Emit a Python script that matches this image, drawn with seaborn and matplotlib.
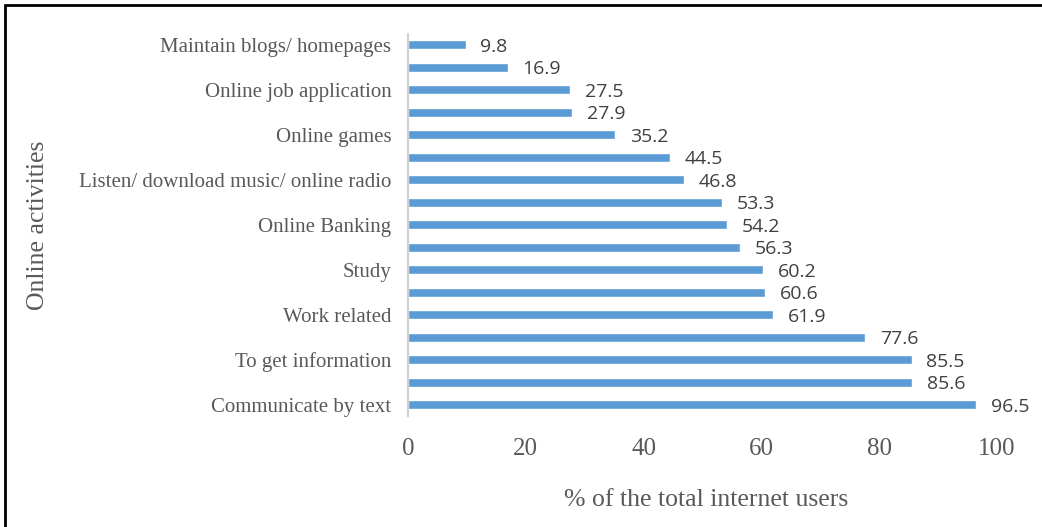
import matplotlib
matplotlib.use("Agg")
import matplotlib.pyplot as plt
import seaborn as sns
import pandas as pd
from matplotlib.patches import Rectangle

# Online activities, shown top to bottom; only every other one carries a label
activity_labels = [
    "Maintain blogs/ homepages", "",
    "Online job application", "",
    "Online games", "",
    "Listen/ download music/ online radio", "",
    "Online Banking", "",
    "Study", "",
    "Work related", "",
    "To get information", "",
    "Communicate by text",
]
share_of_users = [9.8, 16.9, 27.5, 27.9, 35.2, 44.5, 46.8, 53.3, 54.2,
                  56.3, 60.2, 60.6, 61.9, 77.6, 85.5, 85.6, 96.5]
x_ticks = [0, 20, 40, 60, 80, 100]

df = pd.DataFrame({
    "key": [f"a{i}" for i in range(len(share_of_users))],
    "value": share_of_users,
})

sns.set_theme(style="white")
plt.rcParams["font.family"] = ["Liberation Serif", "DejaVu Serif"]

fig = plt.figure(figsize=(10.42, 5.27), dpi=100)
ax = fig.add_axes([0.3916, 0.2102, 0.5653, 0.7258])

sns.barplot(data=df, y="key", x="value", order=df["key"], color="#5B9BD5",
            saturation=1, width=0.4, orient="h", ax=ax)

ax.set_xlim(0, 100)
ax.set_xticks(x_ticks)
ax.set_xticklabels([str(t) for t in x_ticks], fontsize=18, color="#595959")
ax.set_yticks(range(len(activity_labels)))
ax.set_yticklabels(activity_labels, fontsize=15, color="#595959")
ax.tick_params(axis="both", length=0)
ax.tick_params(axis="y", pad=12)
ax.tick_params(axis="x", pad=15.5)

for s in ["top", "right", "bottom"]:
    ax.spines[s].set_visible(False)
ax.spines["left"].set_color("#D0D0D0")
ax.spines["left"].set_linewidth(1.5)

ax.set_xlabel("% of the total internet users", fontsize=18.5, color="#595959")
ax.xaxis.set_label_coords(0.506, -0.19)
ax.set_ylabel("Online activities", fontsize=18.5, color="#595959")
ax.yaxis.set_label_coords(-0.61, 0.5)

for i, v in enumerate(share_of_users):
    ax.text(v + 2.5, i + 0.08, f"{v:.1f}", va="center", ha="left",
            fontsize=14, color="#404040", family=["Open Sans", "DejaVu Sans"])

# Frame around the figure
fig.patches.append(Rectangle((5 / 1042, -0.1), 1.2, 1 - 5 / 527 + 0.1,
                             transform=fig.transFigure, fill=False,
                             edgecolor="black", linewidth=2))

fig.savefig("out.png", dpi=100)
